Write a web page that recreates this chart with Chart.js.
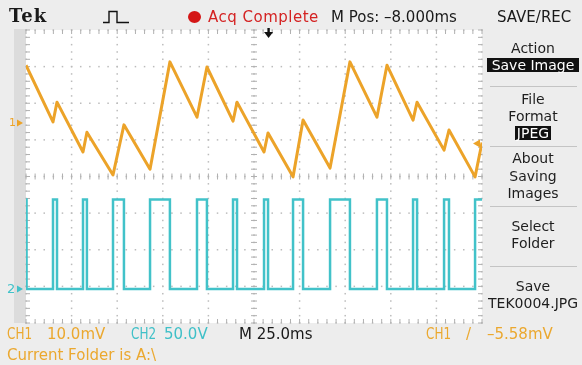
<!DOCTYPE html>
<html>
<head>
<meta charset="utf-8">
<script src="https://cdn.jsdelivr.net/npm/chart.js@4.4.1/dist/chart.umd.min.js"></script>
<style>
html,body{margin:0;padding:0;background:#ededed;}
#screen{position:relative;width:582px;height:365px;overflow:hidden;background:#ededed;font-family:"DejaVu Sans",sans-serif;}
#strip{position:absolute;left:14px;top:29px;width:12px;height:294px;background:#dcdcdc;}
#scope{position:absolute;left:0;top:0;}
.t{position:absolute;white-space:nowrap;font-size:15px;line-height:18px;}
.lbl{transform:scaleX(0.8);transform-origin:0 50%;}
.c1{color:#eba82f;}
.c2{color:#3fc0c8;}
.k{color:#1a1a1a;}
.menu{position:absolute;left:484px;width:98px;text-align:center;font-size:14px;line-height:16px;color:#1e1e1e;white-space:nowrap;}
.inv{background:#111;color:#fff;display:inline-block;line-height:14px;}
.sep{position:absolute;left:490px;width:87px;height:1px;background:#c4c4c4;}
</style>
</head>
<body>
<div id="screen">
  <div id="strip"></div>
  <canvas id="scope" width="582" height="365"></canvas>

  <!-- status bar -->
  <div class="t k" style="left:9px;top:7px;font-family:'DejaVu Serif',serif;font-weight:bold;font-size:18px;letter-spacing:1px;">Tek</div>
  <svg style="position:absolute;left:100px;top:8px" width="32" height="18">
    <path d="M3 14.5 H9 V3.5 H17 V14.5 H29" fill="none" stroke="#111" stroke-width="1.4"/>
  </svg>
  <svg style="position:absolute;left:187px;top:10px" width="16" height="14">
    <ellipse cx="7.5" cy="7" rx="6.5" ry="6" fill="#d41616"/>
  </svg>
  <div class="t" style="left:208px;top:8px;color:#d42222;letter-spacing:0.5px;">Acq Complete</div>
  <div class="t k" style="left:331px;top:8px;">M Pos: –8.000ms</div>
  <div class="t k" style="left:497px;top:8px;">SAVE/REC</div>

  <!-- side menu -->
  <div class="menu" style="top:40px">Action</div>
  <div class="menu" style="top:57px"><span class="inv" style="width:92px">Save Image</span></div>
  <div class="sep" style="top:86px"></div>
  <div class="menu" style="top:91px">File</div>
  <div class="menu" style="top:108px">Format</div>
  <div class="menu" style="top:125px"><span class="inv" style="padding:0 2px">JPEG</span></div>
  <div class="sep" style="top:146px"></div>
  <div class="menu" style="top:150px">About</div>
  <div class="menu" style="top:168px">Saving</div>
  <div class="menu" style="top:185px">Images</div>
  <div class="sep" style="top:206px"></div>
  <div class="menu" style="top:218px">Select</div>
  <div class="menu" style="top:235px">Folder</div>
  <div class="sep" style="top:266px"></div>
  <div class="menu" style="top:278px">Save</div>
  <div class="menu" style="top:295px;text-align:left;left:488px;overflow:hidden;width:94px">TEK0004.JPG</div>

  <!-- readouts -->
  <div class="t c1 lbl" style="left:7px;top:325px;">CH1</div>
  <div class="t c1" style="left:47px;top:325px;">10.0mV</div>
  <div class="t c2 lbl" style="left:131px;top:325px;">CH2</div>
  <div class="t c2" style="left:164px;top:325px;">50.0V</div>
  <div class="t k" style="left:239px;top:325px;">M 25.0ms</div>
  <div class="t c1 lbl" style="left:426px;top:325px;">CH1</div>
  <div class="t c1" style="left:466px;top:325px;">/</div>
  <div class="t c1" style="left:487px;top:325px;">–5.58mV</div>
  <div class="t c1" style="left:7px;top:346px;">Current Folder is A:\</div>
</div>

<script>
// Timebase and vertical settings
const msPerDiv = 25;
const horizDivs = 10;
const ch1mVPerDiv = 10;
const ch2VPerDiv = 50;
const vertDivs = 8;
const ch1GroundDiv = 1.46;   // CH1 ground marker, divisions above centre
const ch2GroundDiv = -3.07;  // CH2 ground marker, divisions below centre
const horizPosMs = -8;
const triggerLevelmV = -5.58;

// CH1 (mV) vertices of the sawtooth trace
const ch1TimeMs = [0, 14.8, 17.0, 31.25, 33.4, 47.7, 53.7, 68.0, 78.9, 93.75, 99.2, 113.5, 115.7,
  130.5, 132.7, 146.4, 151.9, 166.7, 177.6, 192.4, 197.9, 212.2, 214.4, 229.2, 231.9, 246.2, 250];
const ch1mV = [15.8, 0.3, 5.7, -7.9, -2.5, -14.2, -0.5, -12.6, 16.7, 1.6, 15.3, 0.5, 5.7,
  -7.9, -2.7, -14.7, 0.8, -12.3, 16.7, 1.6, 15.8, 0.8, 5.7, -7.4, -1.9, -14.7, -5.3];

// CH2 pulse train: rising and falling edge times (ms) and pulse height (V)
const ch2RiseMs = [-1, 14.8, 31.25, 47.7, 68.0, 93.75, 113.5, 130.5, 146.4, 166.7, 192.4, 212.2, 229.2, 246.2];
const ch2FallMs = [0.3, 17.0, 33.4, 53.7, 78.9, 99.2, 115.7, 132.7, 151.9, 177.6, 197.9, 214.4, 231.9, 252];
const ch2HighV = 122;
const ch2LowV = 0;

const timeMax = msPerDiv * horizDivs;
const ch1Min = -(vertDivs / 2 + ch1GroundDiv) * ch1mVPerDiv;
const ch2Min = -(vertDivs / 2 + ch2GroundDiv) * ch2VPerDiv;

const ch1Points = ch1TimeMs.map((t, i) => ({ x: t, y: ch1mV[i] }));
const ch2Points = [];
ch2RiseMs.forEach((r, i) => {
  ch2Points.push({ x: r, y: ch2LowV }, { x: r, y: ch2HighV },
                 { x: ch2FallMs[i], y: ch2HighV }, { x: ch2FallMs[i], y: ch2LowV });
});

const ORANGE = '#eca329';
const CYAN = '#42c2c9';

const graticule = {
  id: 'graticule',
  beforeDraw(chart) {
    const { ctx, chartArea: a } = chart;
    ctx.save();
    ctx.fillStyle = '#ffffff';
    ctx.fillRect(a.left, a.top, a.right - a.left, a.bottom - a.top);
    ctx.restore();
  },
  beforeDatasetsDraw(chart) {
    const { ctx, chartArea: a, scales } = chart;
    const xs = scales.x, ys = scales.ch1;
    const px = d => xs.getPixelForValue(xs.min + d * msPerDiv);
    const py = d => ys.getPixelForValue(ys.max - d * ch1mVPerDiv);
    ctx.save();
    ctx.fillStyle = '#bcbcbc';
    for (let k = 0; k <= horizDivs; k++) {
      const X = px(k);
      for (let j = 0; j <= vertDivs * 5; j++) ctx.fillRect(X - 0.75, py(j / 5) - 0.75, 1.5, 1.5);
    }
    for (let k = 0; k <= vertDivs; k++) {
      const Y = py(k);
      for (let j = 0; j <= horizDivs * 5; j++) ctx.fillRect(px(j / 5) - 0.75, Y - 0.75, 1.5, 1.5);
    }
    ctx.fillStyle = '#b0b0b0';
    const Xc = px(horizDivs / 2), Yc = py(vertDivs / 2);
    for (let j = 0; j <= vertDivs * 5; j++) {
      const Y = py(j / 5);
      ctx.fillRect(Xc - 3, Y - 0.5, 6, 1);
      ctx.fillRect(a.left, Y - 0.5, 4, 1);
      ctx.fillRect(a.right - 4, Y - 0.5, 4, 1);
    }
    for (let j = 0; j <= horizDivs * 5; j++) {
      const X = px(j / 5);
      ctx.fillRect(X - 0.5, Yc - 3, 1, 6);
      ctx.fillRect(X - 0.5, a.top, 1, 4);
      ctx.fillRect(X - 0.5, a.bottom - 4, 1, 4);
    }
    ctx.restore();
  },
  afterDatasetsDraw(chart) {
    const { ctx, chartArea: a, scales } = chart;
    ctx.save();
    // channel ground markers
    const g1 = scales.ch1.getPixelForValue(0);
    const g2 = scales.ch2.getPixelForValue(0);
    ctx.textBaseline = 'middle';
    ctx.font = '11px "DejaVu Sans"';
    ctx.fillStyle = ORANGE;
    ctx.fillText('1', 9, g1);
    ctx.beginPath(); ctx.moveTo(17, g1 - 3.5); ctx.lineTo(23, g1); ctx.lineTo(17, g1 + 3.5); ctx.fill();
    ctx.font = '13px "DejaVu Sans"';
    ctx.fillStyle = CYAN;
    ctx.fillText('2', 7, g2 + 1);
    ctx.beginPath(); ctx.moveTo(17, g2 - 3.5); ctx.lineTo(23, g2); ctx.lineTo(17, g2 + 3.5); ctx.fill();
    // trigger position
    const tx = scales.x.getPixelForValue(timeMax / 2 - horizPosMs);
    ctx.fillStyle = '#111';
    ctx.fillRect(tx - 1.2, a.top - 2, 2.4, 5);
    ctx.beginPath(); ctx.moveTo(tx - 4.5, a.top + 2); ctx.lineTo(tx + 4.5, a.top + 2); ctx.lineTo(tx, a.top + 8); ctx.fill();
    // trigger level
    const ty = scales.ch1.getPixelForValue(triggerLevelmV);
    ctx.fillStyle = ORANGE;
    ctx.beginPath(); ctx.moveTo(a.right - 9, ty); ctx.lineTo(a.right - 2, ty - 4); ctx.lineTo(a.right - 2, ty + 4); ctx.fill();
    ctx.restore();
  }
};

new Chart(document.getElementById('scope'), {
  type: 'line',
  data: {
    datasets: [
      { label: 'CH1', data: ch1Points, yAxisID: 'ch1', borderColor: ORANGE, borderWidth: 3,
        pointRadius: 0, tension: 0, clip: 0, borderJoinStyle: 'round' },
      { label: 'CH2', data: ch2Points, yAxisID: 'ch2', borderColor: CYAN, borderWidth: 2.5,
        pointRadius: 0, tension: 0, clip: 0 }
    ]
  },
  options: {
    responsive: false,
    animation: false,
    devicePixelRatio: 1,
    layout: { padding: { left: 26, top: 30, right: 100, bottom: 42 } },
    plugins: { legend: { display: false }, tooltip: { enabled: false } },
    scales: {
      x: { type: 'linear', min: 0, max: timeMax, display: false },
      ch1: { type: 'linear', min: ch1Min, max: ch1Min + vertDivs * ch1mVPerDiv, display: false },
      ch2: { type: 'linear', min: ch2Min, max: ch2Min + vertDivs * ch2VPerDiv, display: false }
    }
  },
  plugins: [graticule]
});
</script>
</body>
</html>
